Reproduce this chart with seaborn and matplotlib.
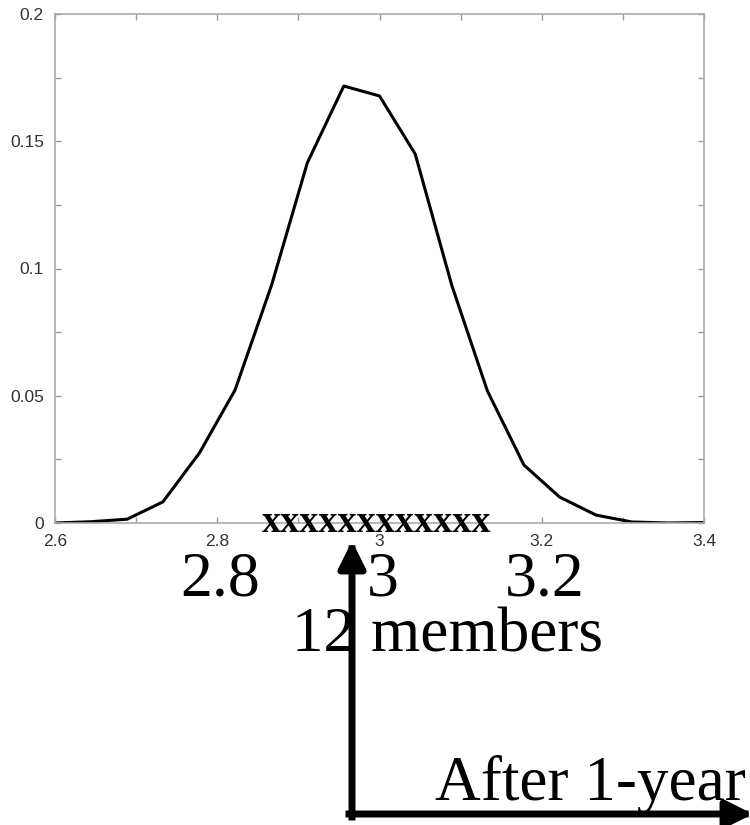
import matplotlib
matplotlib.use("Agg")
import matplotlib.pyplot as plt
import matplotlib.transforms as mtransforms
from matplotlib.patches import FancyArrowPatch
from matplotlib.ticker import MultipleLocator
import pandas as pd
import seaborn as sns

# Probability density of the ensemble state after one year
state = [2.6, 2.644, 2.689, 2.733, 2.778, 2.822, 2.867, 2.911, 2.956, 3.0,
         3.044, 3.089, 3.133, 3.178, 3.222, 3.267, 3.311, 3.356, 3.4]
density = [0.0, 0.0005, 0.0015, 0.0083, 0.0275, 0.0523, 0.0935, 0.1415, 0.1717, 0.1678,
           0.145, 0.0935, 0.0519, 0.0228, 0.0102, 0.0031, 0.0004, 0.0, 0.0002]

# Ensemble information and the enlarged axis labels
n_members = 12
big_ticks = [2.8, 3.0, 3.2]
big_tick_labels = ["2.8", "3", "3.2"]
period_label = "After 1-year"

sns.set_style("ticks")
plt.rcParams["font.family"] = ["Liberation Sans", "DejaVu Sans"]

W, H = 750, 825
fig = plt.figure(figsize=(W / 100, H / 100), dpi=100)
ax = fig.add_axes([55 / W, (H - 523) / H, (704 - 55) / W, (523 - 14) / H])

df = pd.DataFrame({"state": state, "density": density})
sns.lineplot(data=df, x="state", y="density", color="black", linewidth=2.2, ax=ax)

ax.set_xlim(2.6, 3.4)
ax.set_ylim(0, 0.2)
ax.set_xlabel("")
ax.set_ylabel("")
ax.xaxis.set_minor_locator(MultipleLocator(0.1))
ax.yaxis.set_minor_locator(MultipleLocator(0.025))
ax.set_xticks([2.6, 2.8, 3.0, 3.2, 3.4])
ax.set_xticklabels(["2.6", "2.8", "3", "3.2", "3.4"])
ax.set_yticks([0, 0.05, 0.1, 0.15, 0.2])
ax.set_yticklabels(["0", "0.05", "0.1", "0.15", "0.2"])
ax.tick_params(which="both", direction="in", top=True, right=True,
               color="#999999", width=1.0)
ax.tick_params(which="major", length=4, labelsize=12.5, labelcolor="#333333", pad=8)
ax.tick_params(which="minor", length=4)
for sp in ax.spines.values():
    sp.set_color("#aaaaaa")
    sp.set_linewidth(1.2)

serif = ["Liberation Serif", "DejaVu Serif"]

# Ensemble members marked along the axis
ax.text(2.997, 0.0, "x" * n_members, ha="center", va="center",
        fontsize=27.5, fontweight="bold", family=serif, color="black",
        clip_on=False, zorder=5)

# Enlarged tick labels under the axis
blend = mtransforms.blended_transform_factory(ax.transData, fig.transFigure)
for xv, lab in zip(big_ticks, big_tick_labels):
    ax.text(xv + 0.004, (H - 595) / H, lab, transform=blend, ha="center",
            va="baseline", fontsize=46, family=serif, color="black")

fig.text(292 / W, (H - 652) / H, f"{n_members} members", ha="left", va="baseline",
         fontsize=45.5, family=serif, color="black")
fig.text(435 / W, (H - 800) / H, period_label, ha="left", va="baseline",
         fontsize=45.5, family=serif, color="black")

# Time / state axes arrows
def px(x, y):
    return (x / W, (H - y) / H)

style = "-|>,head_length=0.8,head_width=0.4"
for start, end in [((352, 817), (352, 541)), ((349, 814), (753, 814))]:
    arr = FancyArrowPatch(px(*start), px(*end), transform=fig.transFigure,
                          arrowstyle=style, mutation_scale=20, linewidth=5,
                          capstyle="projecting", color="black",
                          shrinkA=0, shrinkB=0, zorder=10)
    fig.add_artist(arr)

fig.savefig("out.png", dpi=100)
